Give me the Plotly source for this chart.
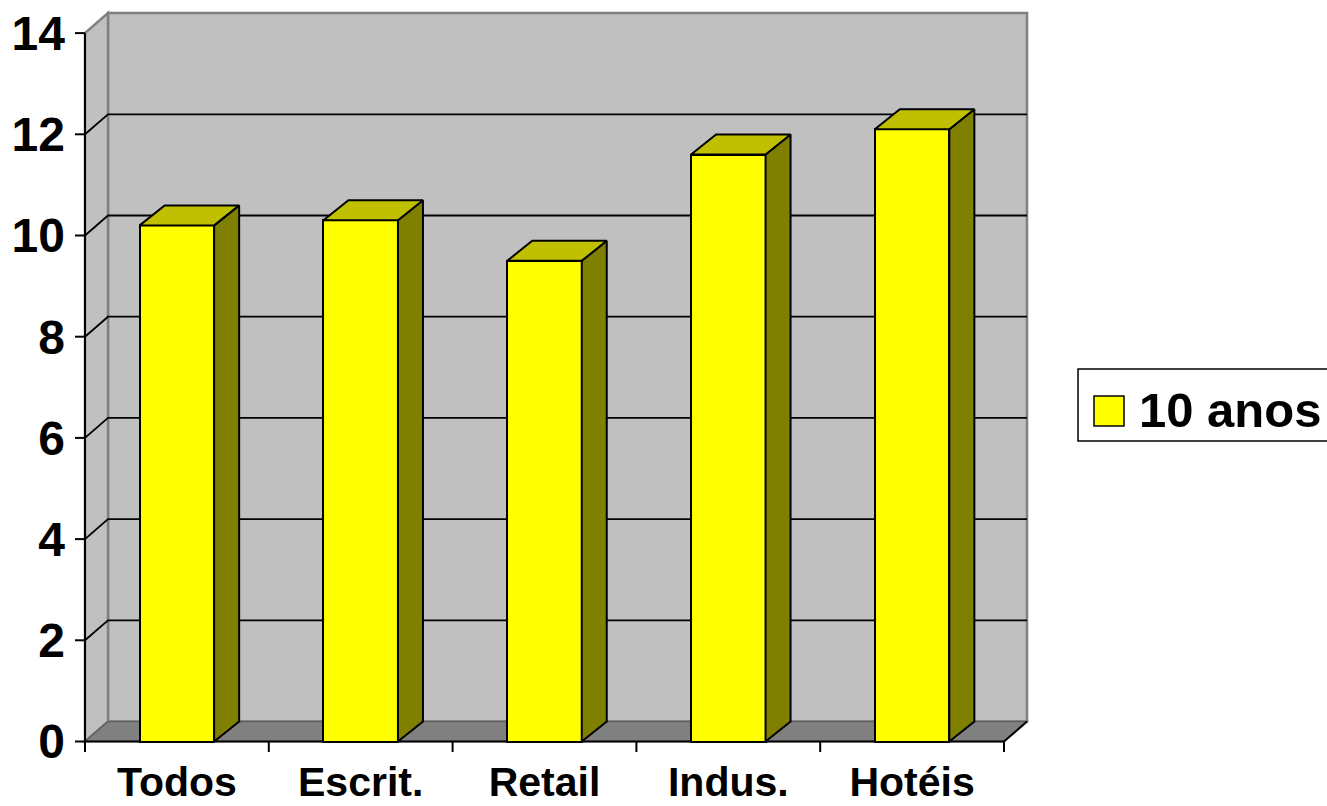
import plotly.graph_objects as go

# ---- data ----
categories = ["Todos", "Escrit.", "Retail", "Indus.", "Hotéis"]
values_10_anos = [10.2, 10.3, 9.5, 11.6, 12.1]
series_name = "10 anos"
y_ticks = [0, 2, 4, 6, 8, 10, 12, 14]

# ---- styling / geometry constants ----
FONT = "Liberation Sans, Arial, sans-serif"
W, H = 1327, 806
PXX = 183.8   # px per category unit
PXY = 50.6    # px per value unit
FRONT_LEFT_PX = 85
ZERO_PX = 741.5
PLOT_L, PLOT_R, PLOT_T, PLOT_B = 70, 1032, 8, 754
X0 = -0.5 - (FRONT_LEFT_PX - PLOT_L) / PXX
X1 = -0.5 + (PLOT_R - FRONT_LEFT_PX) / PXX
Y0 = -(PLOT_B - ZERO_PX) / PXY
Y1 = (ZERO_PX - PLOT_T) / PXY
WDX, WDY = 23 / PXX, 20 / PXY      # wall depth
BDX, BDY = 25 / PXX, 20 / PXY      # bar depth
BAR_W = 74.5 / PXX
YMAX = y_ticks[-1]
N = len(categories)
XL, XR = -0.5, N - 0.5

YELLOW, TOP, SIDE = "#FFFF00", "#C0C000", "#808000"
WALL, FLOOR, EDGE = "#C0C0C0", "#808080", "#808080"

xs = list(range(N))

fig = go.Figure()

# ---- bars (front faces) ----
fig.add_trace(go.Bar(
    x=xs, y=values_10_anos, width=BAR_W, name=series_name,
    marker=dict(color=YELLOW, line=dict(color="black", width=2)),
    showlegend=False, hoverinfo="skip"))

# ---- side faces and top faces built from values ----
sx, sy, tx, ty = [], [], [], []
for x, v in zip(xs, values_10_anos):
    r = x + BAR_W / 2
    l = x - BAR_W / 2
    sx += [r, r + BDX, r + BDX, r, r, None]
    sy += [0, BDY, v + BDY, v, 0, None]
    tx += [l, r, r + BDX, l + BDX, l, None]
    ty += [v, v, v + BDY, v + BDY, v, None]
fig.add_trace(go.Scatter(x=sx, y=sy, mode="lines", fill="toself", fillcolor=SIDE,
                         line=dict(color="black", width=2), showlegend=False, hoverinfo="skip"))
fig.add_trace(go.Scatter(x=tx, y=ty, mode="lines", fill="toself", fillcolor=TOP,
                         line=dict(color="black", width=2), showlegend=False, hoverinfo="skip"))

# ---- walls, floor, gridlines (shapes below traces) ----
shapes = []
def path(pts):
    return "M " + " L ".join(f"{a},{b}" for a, b in pts) + " Z"

# back wall
shapes.append(dict(type="rect", xref="x", yref="y", layer="below",
                   x0=XL + WDX, x1=XR + WDX, y0=WDY, y1=YMAX + WDY,
                   fillcolor=WALL, line=dict(color=EDGE, width=2.5)))
# left wall
shapes.append(dict(type="path", xref="x", yref="y", layer="below",
                   path=path([(XL, 0), (XL + WDX, WDY), (XL + WDX, YMAX + WDY), (XL, YMAX)]),
                   fillcolor=WALL, line=dict(color=EDGE, width=2.5)))
# gridlines on back wall + left wall diagonals
for v in y_ticks[1:-1]:
    shapes.append(dict(type="path", xref="x", yref="y", layer="below",
                       path=f"M {XL},{v} L {XL + WDX},{v + WDY} L {XR + WDX},{v + WDY}",
                       line=dict(color="black", width=1.8)))
# floor
shapes.append(dict(type="path", xref="x", yref="y", layer="below",
                   path=path([(XL, 0), (XR, 0), (XR + WDX, WDY), (XL + WDX, WDY)]),
                   fillcolor=FLOOR, line=dict(color="#606060", width=1.5)))
# front floor edge + right diagonal
shapes.append(dict(type="path", xref="x", yref="y", layer="below",
                   path=f"M {XL},0 L {XR},0 L {XR + WDX},{WDY}",
                   line=dict(color="black", width=2)))
# front vertical axis line
shapes.append(dict(type="line", xref="x", yref="y", layer="below",
                   x0=XL, x1=XL, y0=0, y1=YMAX, line=dict(color="black", width=2)))
# y tick marks
for v in y_ticks:
    shapes.append(dict(type="line", xref="x", yref="y", layer="below",
                       x0=XL - 10 / PXX, x1=XL, y0=v, y1=v, line=dict(color="black", width=2)))
# x tick marks at category boundaries
for i in range(N + 1):
    shapes.append(dict(type="line", xref="x", yref="y", layer="below",
                       x0=XL + i, x1=XL + i, y0=0, y1=-10.5 / PXY, line=dict(color="black", width=2)))

# ---- legend (drawn manually) ----
def px2paper_x(px):
    return (px - PLOT_L) / (PLOT_R - PLOT_L)
def px2paper_y(py):
    return (PLOT_B - py) / (PLOT_B - PLOT_T)

shapes.append(dict(type="rect", xref="paper", yref="paper", layer="above",
                   x0=px2paper_x(1078), x1=px2paper_x(1335),
                   y0=px2paper_y(441), y1=px2paper_y(369),
                   fillcolor="white", line=dict(color="black", width=1.5)))
shapes.append(dict(type="rect", xref="paper", yref="paper", layer="above",
                   x0=px2paper_x(1094), x1=px2paper_x(1124),
                   y0=px2paper_y(426), y1=px2paper_y(396),
                   fillcolor=YELLOW, line=dict(color="black", width=1.5)))

annotations = [dict(xref="paper", yref="paper", x=px2paper_x(1137), y=px2paper_y(410),
                    xanchor="left", yanchor="middle", showarrow=False, text=series_name,
                    font=dict(family=FONT, size=49, color="black", weight="bold"))]

fig.update_layout(
    width=W, height=H,
    margin=dict(l=PLOT_L, r=W - PLOT_R, t=PLOT_T, b=H - PLOT_B, pad=0, autoexpand=False),
    paper_bgcolor="white", plot_bgcolor="white",
    showlegend=False, bargap=0,
    shapes=shapes, annotations=annotations,
    xaxis=dict(range=[X0, X1], tickvals=xs, ticktext=categories, ticks="",
               showgrid=False, zeroline=False, showline=False, fixedrange=True, automargin=False,
               tickfont=dict(family=FONT, size=41, color="black", weight="bold"),
               ticklabelstandoff=0),
    yaxis=dict(range=[Y0, Y1], tickvals=y_ticks, ticks="",
               showgrid=False, zeroline=False, showline=False, fixedrange=True, automargin=False,
               tickfont=dict(family=FONT, size=48, color="black", weight="bold"),
               ticklabelstandoff=4),
)

fig.write_html("out.html")
